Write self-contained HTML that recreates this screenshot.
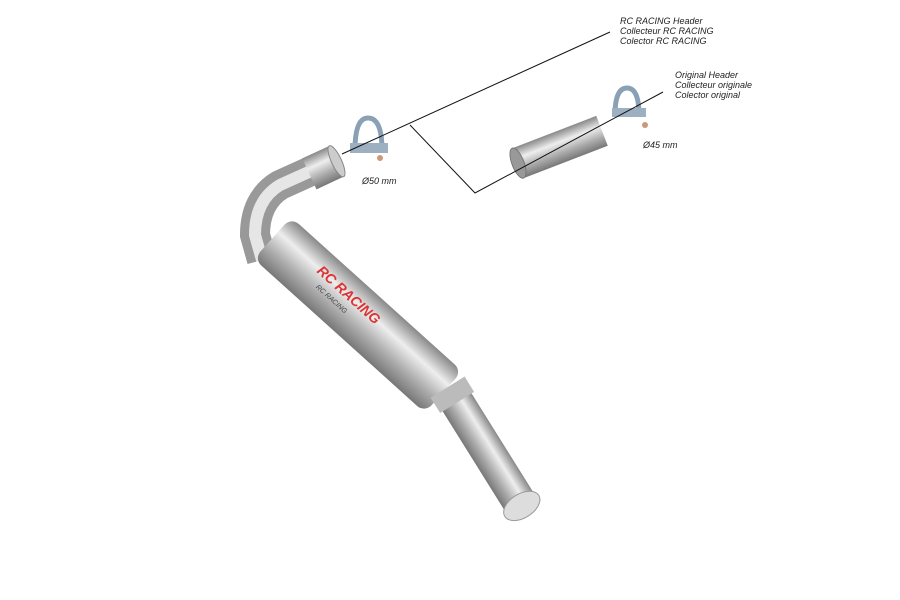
<!DOCTYPE html>
<html><head><style>
html,body{margin:0;padding:0;background:#fff;width:900px;height:600px;overflow:hidden}
text{font-family:"Liberation Sans",sans-serif;font-style:italic;font-size:9px;fill:#222}
</style></head><body>
<svg width="900" height="600" viewBox="0 0 900 600">
<defs>
<linearGradient id="m" x1="0" y1="0" x2="1" y2="0">
<stop offset="0" stop-color="#777"/><stop offset=".3" stop-color="#eee"/><stop offset=".55" stop-color="#aaa"/><stop offset=".8" stop-color="#ddd"/><stop offset="1" stop-color="#666"/>
</linearGradient>
<linearGradient id="t" x1="0" y1="0" x2="0" y2="1">
<stop offset="0" stop-color="#888"/><stop offset=".35" stop-color="#eee"/><stop offset=".7" stop-color="#aaa"/><stop offset="1" stop-color="#777"/>
</linearGradient>
</defs>
<!-- bend pipe -->
<path d="M322 166 L280 185 Q255 200 255 235 L262 260" fill="none" stroke="#999" stroke-width="30"/>
<path d="M322 166 L280 185 Q255 200 255 235 L262 260" fill="none" stroke="#e6e6e6" stroke-width="12"/>
<g transform="translate(322,168) rotate(-25)"><rect x="-14" y="-17" width="30" height="34" fill="url(#t)"/><ellipse cx="16" cy="0" rx="5" ry="17" fill="#ccc" stroke="#888"/></g>
<!-- muffler -->
<g transform="translate(358,315) rotate(42)">
<rect x="-115" y="-28" width="230" height="56" rx="10" fill="url(#t)"/>
<text x="-60" y="-4" style="font-size:14px;fill:#d33;font-weight:bold">RC RACING</text>
<text x="-50" y="8" style="font-size:7px;fill:#444">RC RACING</text>
</g>
<!-- tail -->
<g transform="translate(490,455) rotate(58)">
<rect x="-75" y="-17" width="135" height="34" fill="url(#t)"/>
<rect x="-80" y="-20" width="18" height="40" fill="#bbb"/>
<ellipse cx="60" cy="0" rx="12" ry="20" fill="#ddd" stroke="#999"/>
</g>
<!-- clamp 1 -->
<path d="M355 150 Q355 118 368 118 Q382 118 382 150" fill="none" stroke="#8aa0b5" stroke-width="5"/>
<rect x="350" y="143" width="38" height="10" fill="#9cb0c2"/>
<circle cx="380" cy="158" r="3" fill="#c97"/>
<!-- clamp 2 -->
<path d="M615 115 Q615 88 627 88 Q639 88 639 115" fill="none" stroke="#8aa0b5" stroke-width="5"/>
<rect x="612" y="108" width="34" height="9" fill="#9cb0c2"/>
<circle cx="645" cy="125" r="3" fill="#c97"/>
<!-- sleeve -->
<g transform="translate(560,147) rotate(-21)">
<rect x="-45" y="-16" width="90" height="32" fill="url(#t)"/>
<ellipse cx="-45" cy="0" rx="6" ry="16" fill="#999" stroke="#777"/>
</g>
<!-- lines -->
<polyline points="342,154 610,32" fill="none" stroke="#111" stroke-width="1"/>
<polyline points="410,125 475,193 663,92" fill="none" stroke="#111" stroke-width="1"/>
<text x="620" y="24">RC RACING Header</text>
<text x="620" y="34">Collecteur RC RACING</text>
<text x="620" y="44">Colector RC RACING</text>
<text x="675" y="78">Original Header</text>
<text x="675" y="88">Collecteur originale</text>
<text x="675" y="98">Colector original</text>
<text x="362" y="184">Ø50 mm</text>
<text x="643" y="148">Ø45 mm</text>
</svg>
</body></html>
